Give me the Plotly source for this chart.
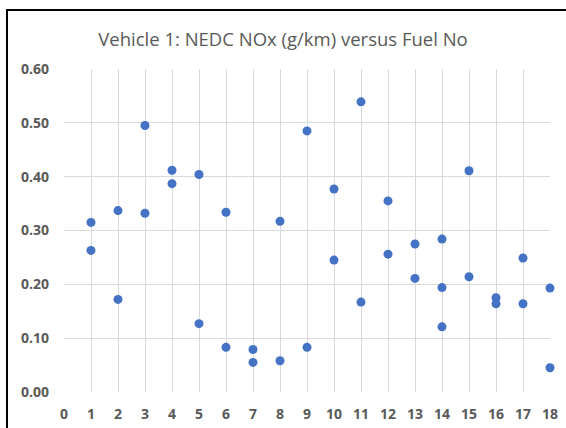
import plotly.graph_objects as go

# Fuel number and NEDC NOx (g/km), two or three tests per fuel
fuel_no = [1, 1, 2, 2, 3, 3, 4, 4, 5, 5, 6, 6, 7, 7, 8, 8, 9, 9,
           10, 10, 11, 11, 12, 12, 13, 13, 14, 14, 14, 15, 15, 16, 16, 17, 17, 18, 18]
nox = [0.315, 0.263, 0.337, 0.172, 0.495, 0.332, 0.412, 0.387, 0.404, 0.127,
       0.334, 0.083, 0.079, 0.055, 0.317, 0.058, 0.485, 0.083,
       0.377, 0.245, 0.539, 0.167, 0.355, 0.256, 0.275, 0.211,
       0.284, 0.194, 0.121, 0.411, 0.214, 0.175, 0.164, 0.249, 0.164, 0.193, 0.045]

y_ticks = [0.0, 0.1, 0.2, 0.3, 0.4, 0.5, 0.6]
y_tick_text = ["0.00", "0.10", "0.20", "0.30", "0.40", "0.50", "0.60"]

grey = "#595959"
grid = "#D9D9D9"
tick_font = dict(family="Open Sans", size=14, weight="bold", color=grey)

fig = go.Figure()
fig.add_trace(go.Scatter(
    x=fuel_no,
    y=nox,
    mode="markers",
    marker=dict(color="#4472C4", size=9, line=dict(width=0)),
    cliponaxis=False,
    showlegend=False
))

fig.update_layout(
    width=566,
    height=428,
    margin=dict(l=64, r=16, t=69, b=36),
    paper_bgcolor="white",
    plot_bgcolor="white",
    title=dict(
        text="Vehicle 1: NEDC NOx (g/km) versus Fuel No",
        x=0.5, xref="container", xanchor="center",
        y=1 - 40 / 428, yref="container", yanchor="middle",
        font=dict(family="Open Sans", size=18.5, color=grey)
    ),
    xaxis=dict(
        range=[0, 18], dtick=1, tick0=0,
        showgrid=True, gridcolor=grid, gridwidth=1,
        zeroline=False, showline=False, automargin=False,
        ticks="", ticklabelstandoff=12,
        tickfont=tick_font
    ),
    yaxis=dict(
        range=[0, 0.6], tickvals=y_ticks, ticktext=y_tick_text,
        showgrid=True, gridcolor=grid, gridwidth=1,
        zeroline=False, showline=False, automargin=False,
        ticks="", ticklabelstandoff=14,
        tickfont=tick_font
    ),
)

# black frame of the chart, visible only on the left and top edges
px_x = lambda p: (p - 64) / 486
px_y = lambda p: (392 - p) / 323
fig.add_shape(type="line", xref="paper", yref="paper",
              x0=px_x(7), x1=px_x(7), y0=px_y(9), y1=px_y(428),
              line=dict(color="black", width=2))
fig.add_shape(type="line", xref="paper", yref="paper",
              x0=px_x(6), x1=px_x(566), y0=px_y(10), y1=px_y(10),
              line=dict(color="black", width=2))

# drop the page's default body margin so the chart fills the window
fig.write_html("out.html",
               config={"displayModeBar": False},
               post_script="document.body.style.margin='0';"
                           "document.body.style.overflow='hidden';")
